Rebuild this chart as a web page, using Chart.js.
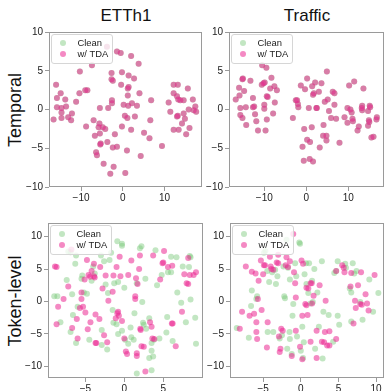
<!DOCTYPE html>
<html><head><meta charset="utf-8">
<script src="https://cdn.jsdelivr.net/npm/chart.js@4"></script>
<style>
html,body{margin:0;padding:0;background:#fff;}
body{width:385px;height:391px;overflow:hidden;position:relative;font-family:"Liberation Sans",Arial,sans-serif;}
canvas{position:absolute;}
.t{position:absolute;font-size:17px;color:#111;white-space:nowrap;transform:translate(-50%,-50%);line-height:1;}
.r{position:absolute;font-size:18px;color:#111;white-space:nowrap;transform:translate(-50%,-50%) rotate(-90deg);line-height:1;}
</style></head><body>
<div class="t" style="left:126px;top:15px">ETTh1</div>
<div class="t" style="left:307px;top:15px">Traffic</div>
<div class="r" style="left:15px;top:110px">Temporal</div>
<div class="r" style="left:15px;top:301px">Token-level</div>
<canvas id="c1"></canvas><canvas id="c2"></canvas><canvas id="c3"></canvas><canvas id="c4"></canvas>
<script>
// ---- tick labels ----
const topXTicks = [-10, 0, 10];
const topYTicks = [-10, -5, 0, 5, 10];
const botLeftXTicks = [-5, 0, 5];
const botRightXTicks = [-5, 0, 5, 10];
const botYTicks = [-10, -5, 0, 5, 10];
const seriesLabels = ['Clean', 'w/ TDA'];

// ---- ETTh1, temporal (Clean and w/ TDA coincide) ----
const ettTemporalClean = [[-16,3.2],[-15.8,1.5],[-14.9,2.1],[-15.8,0.3],[-14.7,0.2],[-14.7,-0.4],[-14.7,-1.1],[-13.8,1.3],[-13.6,0.4],[-13.1,-1],[-12.4,-1.4],[-12.2,-0.5],[-11.2,1],[-10.4,2.1],[-10.3,4.9],[-16.6,-1.3],[-9,2.5],[-8.5,2.5],[-8.8,-2.2],[-7.4,5.7],[-6.7,-3.4],[-7,-1.4],[-6.4,-5.5],[-6.2,-5.9],[-5.8,-2.3],[-5.6,-1.8],[-5.5,0.2],[-5.5,-3.1],[-5.4,-4.5],[-5.3,-4.4],[-4.8,-2.3],[-4.6,-7],[-4.2,-2.5],[-3.8,8.1],[-3.7,-4.2],[-3.5,0.2],[-3,-8.3],[-2.7,4.7],[-2.7,3.9],[-2.6,1.2],[-2.6,0.8],[-2.4,3.7],[-2.4,-4.9],[-2.2,-7.4],[-1.9,-3.2],[-1.4,-4.8],[-1.4,7.5],[-0.5,7.3],[-0.4,3.2],[-0.2,4.8],[-0.2,-2.2],[0.2,0.6],[0.5,-0.8],[0.6,-8.2],[1,-5.3],[1.1,-1.1],[1.2,2.7],[1.4,2.9],[1.2,1.8],[1.3,0.5],[1.4,4.4],[2,6.9],[2,-2.6],[2.2,0.8],[2.7,4],[2.9,-0.9],[3.4,0.5],[3.8,5.9],[4,2.1],[4.3,-6],[5.1,-3],[6.6,-1.4],[6.8,1.2],[6.4,-3.7],[9.4,-4.7],[11,0.9],[11.4,-0.3],[12.2,3.2],[12.2,2.1],[12.2,-2.6],[13,1.7],[13.2,3.2],[13,-0.9],[13.2,-0.8],[13.3,1.3],[13.4,-2.6],[13.8,1.2],[14.2,-1.8],[14.6,1.2],[14.6,-0.5],[14.9,-1.2],[15.2,-3.2],[15.6,2.7],[15.8,0],[16,-2.4],[16.8,1.3],[17,-0.1],[17.4,0.4],[17.6,-0.3]];
const ettTemporalTDA = ettTemporalClean;

// ---- Traffic, temporal (Clean and w/ TDA coincide) ----
const trafficTemporalClean = [[-16.8,1.3],[-16,2.8],[-15.9,1.8],[-15.7,0.2],[-15.7,-0.7],[-15.2,3.9],[-15.1,4],[-15.2,-1.1],[-14.8,2.4],[-14.4,0.3],[-14.3,-2],[-13.3,3.7],[-12.7,1.5],[-12.7,0.3],[-12.4,0.4],[-12.2,-0.6],[-11.9,-1.5],[-11.5,-2.7],[-10.6,3.2],[-10.5,5.7],[-10.2,3.4],[-10,0.6],[-10,0.1],[-9.9,3.5],[-9.7,-2.7],[-9.5,5.4],[-9.4,1.7],[-9.4,-1.3],[-9.2,1.6],[-8.6,2.7],[-8.3,4.1],[-7.9,-0.5],[-7.6,3],[-7.5,0.9],[-7,2.5],[-3.2,-1.1],[-2.5,1.2],[-2.2,1.2],[-1.9,0.3],[-2,0.7],[-1.3,3.1],[-0.9,-4.8],[-0.6,-6.6],[-0.5,-2.5],[-0.3,2.6],[0.2,4],[0.2,-3.9],[0.6,0.2],[0.9,-4.2],[0.8,-6.4],[1.3,-2.3],[1.4,3],[1.6,-6.7],[1.6,1.9],[1.8,2.1],[2.1,3.5],[2.4,0.2],[2.5,0.2],[3,2.3],[3.2,-4.9],[3.6,3.4],[4,-3.4],[4.1,-2],[4.4,1],[4.8,-4],[4.8,-3.4],[4.9,4.9],[5.1,1.3],[5.4,-0.2],[5.9,-1.1],[6.3,2.3],[6.7,2.1],[6.7,0.6],[7.1,-1.2],[7.9,-4.3],[9.1,-1],[9.8,-1.7],[10.2,3.1],[9.8,0.2],[10.5,0],[10.8,-0.4],[11,-1.2],[11.1,-1.5],[11.4,3.6],[12.2,-2.7],[12.5,-2.2],[13.2,0.2],[13.3,-0.1],[13.6,2.7],[13.3,0.5],[14.7,-0.2],[14.9,-1.4],[15,-1.6],[14.7,-2.1],[15.2,0.3],[15.5,-3.6],[16,-3.5],[16.7,-1.3],[16.8,-1],[15.1,0.5]];
const trafficTemporalTDA = trafficTemporalClean;

// ---- ETTh1, token-level ----
const ettTokenClean = [[-9,0.8],[-8.6,0.8],[-8.2,-3.2],[-7.4,3.3],[-7.2,7.7],[-6.9,7.6],[-6.9,-4.7],[-6.7,1.1],[-6.6,-2.1],[-6.3,5.8],[-6.2,7.1],[-6.2,-6.4],[-6,-0.8],[-5.5,3.5],[-5.4,4],[-5.2,1.4],[-4.8,1.2],[-4.5,-5.9],[-4.2,3.2],[-4,5.4],[-3.8,4.3],[-3,7.1],[-2.9,-4.4],[-2.6,6.2],[-2.4,2.6],[-2.2,-7.4],[-2.1,1.3],[-1.9,6.4],[-1.7,7.5],[-1.5,-1.3],[-1.4,-3.3],[-1.3,2.8],[-1,-3.5],[-0.9,9.3],[-0.8,3],[-0.8,-5],[-0.3,8.9],[-0.3,8.6],[-0.3,-4.5],[0,2.1],[0.1,-5.9],[0.5,-6.5],[0.8,-4],[0.9,-5.5],[1.3,-1.8],[1.2,-5.9],[1.6,2.8],[1.6,-11.1],[2,8.2],[2.2,8.5],[2.3,-0.1],[2.4,-3.3],[2.5,-3.6],[2.7,3.5],[2.8,-4.2],[3.2,-2.6],[3.2,-8.7],[3.5,-6.4],[3.5,-7.6],[3.5,-10.6],[3.7,-8.5],[3.8,-5.9],[4,7.9],[4.2,2.5],[4.5,-5.7],[4.8,4.1],[5.4,-4.8],[5.5,-2.4],[5.6,4.5],[6,4.5],[6,6.9],[6.2,-6.1],[6.7,6.8],[6.8,1.4],[7.3,-0.2],[7.5,5.4],[7.9,-3.2],[8.3,5.3],[8.4,7],[8.5,0.3],[8.5,6.8],[9.1,-2.5],[9.2,-6.5],[-2.9,-6.7]];
const ettTokenTDA = [[-8.9,5.4],[-8.7,5.3],[-8.7,-3.5],[-8.5,-0.8],[-7.8,0.4],[-7.2,2.3],[-6.8,8],[-6.7,-4.1],[-6.1,-2.7],[-6,-5.7],[-5.7,-1],[-5.5,1.4],[-5.5,0.4],[-5.3,-0.8],[-5.1,3.4],[-5,-1.7],[-4.8,6.4],[-4.7,-4.3],[-4.6,4.1],[-4.4,3.8],[-4.35,-3.2],[-4.2,4.7],[-3.9,5.8],[-3.9,3.9],[-3.8,3.7],[-3.7,-2],[-3.7,-6.4],[-3.6,-6.4],[-3.2,-2.7],[-3.1,5.3],[-2.8,2],[-2.6,-5.2],[-2.4,4],[-2.2,-6.3],[-2.05,0.1],[-1.5,1.5],[-1.4,4],[-1.1,-2.6],[-1,5.3],[-0.9,-1.8],[-0.8,-1.6],[-0.7,-2.2],[-0.6,6.9],[-0.5,3.9],[-0.3,-3],[0,-5.7],[0.2,-7.7],[0.35,-8.1],[0.5,4.1],[0.9,6.3],[1.4,0.8],[1.4,0.4],[1.5,3.6],[1.6,-8],[1.6,-8.4],[1.7,2.7],[1.9,5],[2,7.1],[2.05,-4.2],[2.1,-4.4],[2.2,-6.9],[2.5,-7],[2.7,-10.8],[3.3,-3.2],[3.5,-3.9],[3.6,-5.7],[3.7,7.1],[3.85,-5.8],[4.6,3.4],[5,6],[5.1,7.8],[4.9,5.9],[5.6,5.3],[6.1,-3.4],[6.15,5.5],[6.2,-3.4],[6.6,-6.9],[7.4,-1.6],[7.7,4.2],[8,2.8],[8.2,6.7],[8.2,2.7],[8.4,4.1],[8.9,4.1],[9.2,4.5]];

// ---- Traffic, token-level ----
const trafficTokenClean = [[-8.5,-4.1],[-6.9,-5.6],[-6.6,-0.7],[-6.5,1.7],[-5.9,0.4],[-5.8,0.8],[-4.9,7.5],[-4.7,7.8],[-4.45,4.7],[-4.4,-4.7],[-4.2,3],[-3.8,4.5],[-3.65,-4.7],[-3.4,4.9],[-3.3,2.7],[-3.1,3.9],[-2.8,-5.7],[-2.5,-5.2],[-2.3,5.4],[-2.2,0.8],[-2.1,0.5],[-1.9,9.5],[-1.8,-7.3],[-1.7,5.2],[-1.5,-4.7],[-1.45,3.4],[-1.45,-5.8],[-1.2,-8.1],[-1.1,-2.2],[-1,-0.4],[-0.75,5.9],[-0.6,3.9],[-0.5,-5.4],[-0.2,9.1],[-0.1,8.9],[0,-7.6],[0.2,-3.9],[0.3,-8.7],[0.4,-6.3],[0.5,4.2],[0.7,5.9],[0.75,2.7],[1,1.3],[1.1,5.9],[1.3,-0.3],[1.5,3.2],[1.6,-0.1],[1.8,5],[1.9,-7.3],[2.2,1.4],[2.4,-3.9],[2.8,6.2],[2.9,-8.8],[3,-1.6],[3.7,-2.1],[4.3,-6.2],[4.45,4.4],[4.7,4.7],[4.9,6.2],[4.9,-2.2],[5.1,-3.6],[5.9,5.8],[6,5.2],[6.5,2],[6.7,1.4],[6.7,-3.1],[6.9,5.9],[7.1,4.3],[7.4,4.7],[7.9,-0.1],[8.2,-2.8],[9.1,3.4],[9.6,-1.6],[10.3,1.3]];
const trafficTokenTDA = [[-8.1,-4.2],[-7.8,-1.6],[-7.3,5.4],[-6.8,-2.2],[-6.5,4.6],[-6.2,-1.9],[-6,4.3],[-5.9,-3.2],[-5.9,-4.7],[-5.8,-5.8],[-5.7,0.4],[-5.6,3.2],[-5.3,6.3],[-5.2,-1.3],[-5,4.2],[-4.9,5.6],[-4.75,5.6],[-4.5,-7.1],[-4.4,-3.2],[-4.1,6.9],[-4,5.4],[-3.9,5],[-3.65,4.9],[-3.2,6],[-3,5.9],[-3,7.2],[-2.9,-5.4],[-2.8,-7.8],[-2.7,-7.3],[-2.6,-4.2],[-2.4,-4.5],[-2,5.6],[-1.9,6.8],[-1.7,5.3],[-1.45,6.2],[-1.2,-8.4],[-0.9,4.5],[-0.75,2.8],[-0.66,0.6],[-0.66,-4.5],[-0.1,-7],[0.1,6.3],[0.2,-2.2],[0.2,-8.9],[0.3,5.8],[0.6,-0.4],[0.75,-0.6],[0.75,2.1],[0.9,-2.1],[1,2],[1.3,2.8],[1.3,-6.2],[1.45,2.8],[1.5,-0.3],[1.7,0.9],[2.1,-8.7],[2.1,-4.5],[2.5,2.5],[2.8,-6.2],[3.1,-6.3],[3.2,-4.7],[3.3,0.1],[3.5,-6.8],[3.8,-4.6],[3.8,-6.8],[4.7,-5.8],[4.7,4.7],[5.5,5.6],[5.7,5.2],[5.8,4.5],[6.6,2.3],[6.7,4.4],[7,-3.4],[7.2,0.1],[7.3,-1],[7.6,2.5],[7.9,-0.4],[8,4.5],[8.1,-0.5],[8.6,1.1],[8.8,-0.3],[9,-1.4],[9.8,4.1],[-1,10.4]];

// ---- style ----
const CLEAN = 'rgba(120,200,120,0.45)';
const TDA = 'rgba(235,40,145,0.55)';
const SPINE = '#9a9a9a';
const TICK_FONT = {family:'"Liberation Sans", Arial, sans-serif', size:10};

function fmt(v){ return v < 0 ? '\u2212' + Math.abs(v) : String(v); }

const framePlugin = {
  id:'frame',
  afterDraw(chart){
    const {ctx, chartArea:a} = chart;
    ctx.save();
    ctx.strokeStyle = SPINE; ctx.lineWidth = 1;
    const l = Math.round(a.left), t = Math.round(a.top), r = Math.round(a.right), b = Math.round(a.bottom);
    ctx.strokeRect(l + 0.5, t + 0.5, r - l - 1, b - t - 1);
    // legend
    const bx = l + 2.5, by = t + 2.5, bw = 61, bh = 29;
    ctx.beginPath();
    if (ctx.roundRect) ctx.roundRect(bx, by, bw, bh, 2.5); else ctx.rect(bx, by, bw, bh);
    ctx.fillStyle = 'rgba(255,255,255,0.8)'; ctx.fill();
    ctx.strokeStyle = '#d6d6d6'; ctx.stroke();
    ctx.font = '9.4px "Liberation Sans", Arial, sans-serif';
    ctx.textBaseline = 'middle'; ctx.textAlign = 'left';
    chart.data.datasets.forEach((ds, i) => {
      const cy = by + 8.5 + i * 11;
      ctx.beginPath(); ctx.arc(bx + 11.5, cy, 3, 0, Math.PI * 2);
      ctx.fillStyle = ds.backgroundColor; ctx.fill();
      ctx.fillStyle = '#222'; ctx.fillText(ds.label, bx + 26, cy + 0.5);
    });
    ctx.restore();
  }
};

const YW = 34, PT = 8, PR = 3, XH = 22;
function makePanel(id, area, xr, yr, xt, yt, clean, tda){
  const [L, T, R, B] = area;
  const cv = document.getElementById(id);
  cv.style.left = (L - YW) + 'px'; cv.style.top = (T - PT) + 'px';
  cv.width = R - L + YW + PR; cv.height = B - T + PT + XH;
  const pt = {pointRadius:3, pointHoverRadius:3, pointBorderWidth:0, borderWidth:0};
  new Chart(cv, {
    type:'scatter',
    data:{datasets:[
      Object.assign({label:seriesLabels[0], data:clean.map(([x,y])=>({x,y})), backgroundColor:CLEAN, order:2}, pt),
      Object.assign({label:seriesLabels[1], data:tda.map(([x,y])=>({x,y})), backgroundColor:TDA, order:1}, pt)
    ]},
    options:{
      responsive:false, animation:false, devicePixelRatio:1, events:[],
      layout:{padding:{left:0, top:PT, right:PR, bottom:0}},
      plugins:{legend:{display:false}, tooltip:{enabled:false}},
      scales:{
        x:{type:'linear', min:xr[0], max:xr[1],
           afterBuildTicks:s=>{ s.ticks = xt.map(v=>({value:v})); },
           afterFit:s=>{ s.height = XH; },
           ticks:{font:TICK_FONT, color:'#222', padding:1, maxRotation:0, autoSkip:false, callback:v=>fmt(v)},
           grid:{drawOnChartArea:false, drawTicks:true, tickLength:4, color:SPINE}, border:{display:false}},
        y:{type:'linear', min:yr[0], max:yr[1],
           afterBuildTicks:s=>{ s.ticks = yt.map(v=>({value:v})); },
           afterFit:s=>{ s.width = YW; },
           ticks:{font:TICK_FONT, color:'#222', padding:2, autoSkip:false, callback:v=>fmt(v)},
           grid:{drawOnChartArea:false, drawTicks:true, tickLength:4, color:SPINE}, border:{display:false}}
      }
    },
    plugins:[framePlugin]
  });
}

makePanel('c1', [49, 32, 202, 187], [-17.7, 19.0], [-10, 10], topXTicks, topYTicks, ettTemporalClean, ettTemporalTDA);
makePanel('c2', [229, 32, 384, 187], [-18.4, 18.5], [-10, 10], topXTicks, topYTicks, trafficTemporalClean, trafficTemporalTDA);
makePanel('c3', [48, 223, 203, 378], [-9.8, 10.1], [-11.8, 12.1], botLeftXTicks, botYTicks, ettTokenClean, ettTokenTDA);
makePanel('c4', [230, 223, 384, 378], [-9.4, 11.05], [-11.8, 12.1], botRightXTicks, botYTicks, trafficTokenClean, trafficTokenTDA);
</script>
</body></html>
